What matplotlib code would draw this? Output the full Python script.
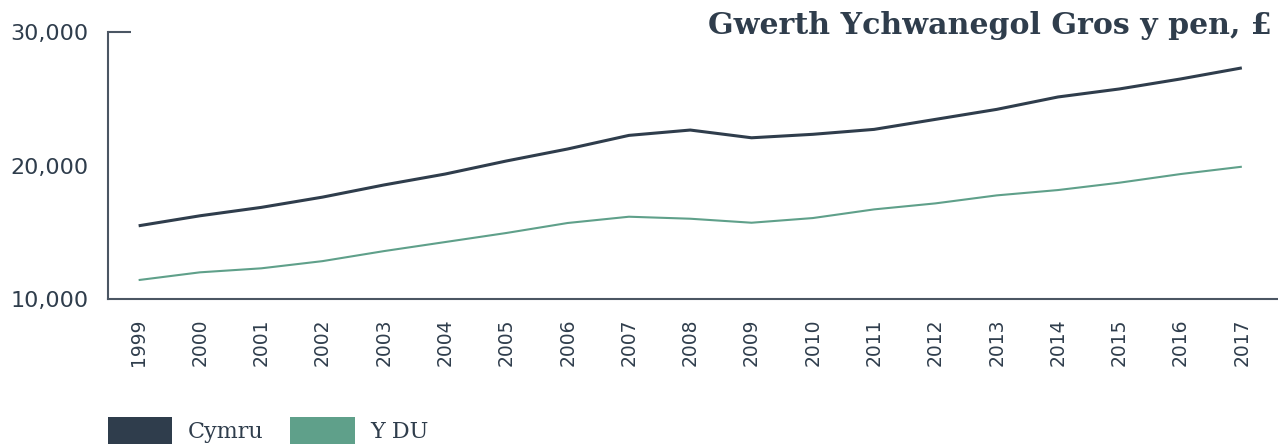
import matplotlib.pyplot as plt
import matplotlib.transforms as mtransforms
from matplotlib.patches import Patch

years = list(range(1999, 2018))
cymru = [15490, 16240, 16870, 17640, 18550, 19370, 20350, 21250, 22270, 22670,
         22090, 22350, 22720, 23470, 24220, 25150, 25750, 26500, 27330]
y_du = [11420, 12000, 12300, 12840, 13590, 14270, 14950, 15700, 16170, 16020,
        15720, 16070, 16720, 17170, 17770, 18170, 18720, 19370, 19920]
y_ticks = [10000, 20000, 30000]
title = 'Gwerth Ychwanegol Gros y pen, £'

dark = '#2f3d4c'
green = '#5fa08a'
text_col = '#2f3d4c'
spine_col = '#4b5663'

fig = plt.figure(figsize=(12.78, 4.46), dpi=100)
ax = fig.add_axes([108 / 1278, 1 - 299 / 446, 1 - 108 / 1278, (299 - 32.3) / 446])

ax.plot(years, cymru, color=dark, lw=2.2, solid_capstyle='butt')
ax.plot(years, y_du, color=green, lw=1.5, solid_capstyle='butt')

ax.set_xlim(1998.5, 2017.59)
ax.set_ylim(10000, 30000)
ax.set_yticks(y_ticks)
ax.set_yticklabels([f'{v:,}' for v in y_ticks], fontsize=16, color=text_col)
ax.set_xticks(years)
ax.set_xticklabels([str(y) for y in years], rotation=90, fontsize=13.5, color=text_col)
ax.tick_params(axis='y', length=0, pad=14)
ax.tick_params(axis='x', length=0, pad=14)

for s in ['top', 'right']:
    ax.spines[s].set_visible(False)
for s in ['left', 'bottom']:
    ax.spines[s].set_color(spine_col)
    ax.spines[s].set_linewidth(1.5)

# short cap at the top of the y axis
trans = mtransforms.blended_transform_factory(ax.transAxes, ax.transData)
ax.plot([0, 23 / 1170], [30000, 30000], color=spine_col, lw=1.5,
        transform=trans, clip_on=False, solid_capstyle='butt')

fig.text(1272 / 1278, 1 - 11 / 446, title, ha='right', va='top',
         fontsize=21.6, fontweight='bold', family='DejaVu Serif', color=text_col)

handles = [Patch(facecolor=dark, edgecolor='none'), Patch(facecolor=green, edgecolor='none')]
fig.legend(handles, ['Cymru', 'Y DU'], loc='upper left',
           bbox_to_anchor=(108 / 1278, 1 - 417 / 446), ncol=2, frameon=False,
           borderpad=0, borderaxespad=0, handlelength=2.9, handleheight=1.5,
           handletextpad=0.7, columnspacing=1.2,
           prop={'family': 'DejaVu Serif', 'size': 16}, labelcolor=text_col)

fig.savefig('out.png', dpi=100)
